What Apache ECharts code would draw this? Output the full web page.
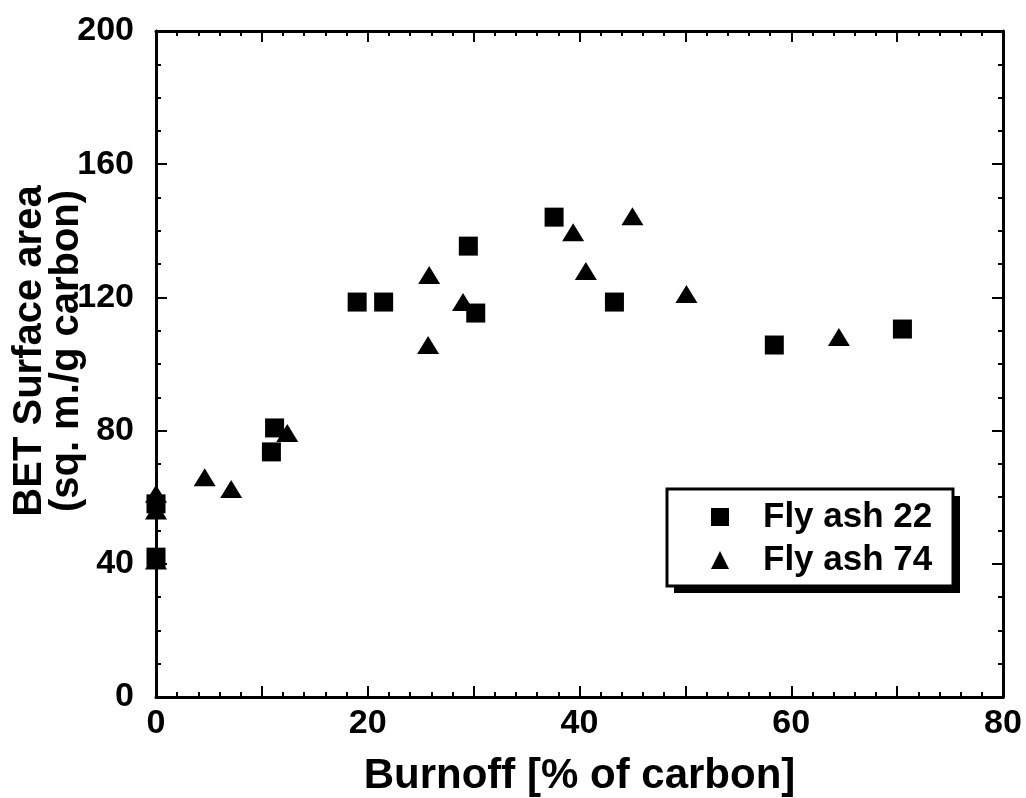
<!DOCTYPE html>
<html>
<head>
<meta charset="utf-8">
<script src="https://cdn.jsdelivr.net/npm/echarts@6/dist/echarts.min.js"></script>
<style>
  html, body { margin: 0; padding: 0; background: #fff; }
  #chart { width: 1026px; height: 798px; }
</style>
</head>
<body>
<div id="chart"></div>
<script>
  // Fly ash 22 (squares): [burnoff %, BET area]
  var flyAsh22 = [
    [0, 42], [0, 58], [10.9, 73.6], [11.2, 80.8], [19.0, 118.6], [21.5, 118.6],
    [29.5, 135.4], [30.2, 115.3], [37.6, 144.1], [43.3, 118.6], [58.4, 105.7], [70.5, 110.5]
  ];
  // Fly ash 74 (triangles)
  var flyAsh74 = [
    [0, 41], [0, 56], [0, 61], [4.6, 66], [7.1, 62.5], [12.4, 79.3], [25.7, 105.7],
    [25.8, 126.7], [29.0, 118.6], [39.4, 139.6], [40.6, 127.9], [45.0, 144.4],
    [50.1, 121.0], [64.5, 108.1]
  ];
  var xRange = [0, 80];
  var yRange = [0, 200];

  var font = 'Liberation Sans, Arial, sans-serif';
  var lineStyle = { color: '#000', width: 3 };

  function frameAxis(pos, range, interval, minorSplit, labels) {
    return {
      type: 'value',
      position: pos,
      min: range[0],
      max: range[1],
      interval: interval,
      axisLine: { show: true, onZero: false, lineStyle: lineStyle },
      axisTick: { show: true, inside: true, length: 11, lineStyle: { color: '#000', width: 2 } },
      minorTick: { show: true, splitNumber: minorSplit, length: 5, lineStyle: { color: '#000', width: 2 } },
      splitLine: { show: false },
      minorSplitLine: { show: false },
      axisLabel: labels ? {
        show: true, color: '#000', fontFamily: font, fontWeight: 'bold', fontSize: 34,
        margin: labels.margin,
        formatter: labels.formatter
      } : { show: false }
    };
  }

  // legend frame with its offset shadow
  var box = { x: 667, y: 489, w: 286, h: 97 };

  var chart = echarts.init(document.getElementById('chart'));
  chart.setOption({
    animation: false,
    backgroundColor: '#fff',
    grid: { left: 156, right: 23, top: 31, bottom: 101, containLabel: false, outerBoundsMode: 'none' },
    xAxis: [
      Object.assign(frameAxis('bottom', xRange, 10, 5, {
        margin: 10,
        formatter: function (v) { return v % 20 === 0 ? String(v) : ''; }
      }), {
        name: 'Burnoff [% of carbon]',
        nameLocation: 'middle',
        nameMoveOverlap: false,
        nameGap: 58,
        nameTextStyle: { color: '#000', fontFamily: font, fontWeight: 'bold', fontSize: 42 }
      }),
      frameAxis('top', xRange, 10, 5, null)
    ],
    yAxis: [
      Object.assign(frameAxis('left', yRange, 40, 4, { margin: 22 }), {
        name: 'BET Surface area\n(sq. m./g carbon)',
        nameLocation: 'middle',
        nameMoveOverlap: false,
        nameRotate: 90,
        nameGap: 71,
        nameTextStyle: { color: '#000', fontFamily: font, fontWeight: 'bold', fontSize: 40, lineHeight: 37,
          padding: [0, 0, 0, 26] }
      }),
      frameAxis('right', yRange, 40, 4, null)
    ],
    graphic: [
      { type: 'rect', z: 1, shape: { x: box.x + 7, y: box.y + 7, width: box.w, height: box.h },
        style: { fill: '#000' } },
      { type: 'rect', z: 2, shape: { x: box.x, y: box.y, width: box.w, height: box.h },
        style: { fill: '#fff', stroke: '#000', lineWidth: 3 } }
    ],
    legend: {
      z: 10,
      orient: 'vertical',
      left: 711,
      top: 499,
      padding: 0,
      itemWidth: 18,
      itemHeight: 18,
      itemGap: 7,
      textStyle: { color: '#000', fontFamily: font, fontWeight: 'bold', fontSize: 35, lineHeight: 36,
        padding: [0, 0, 0, 29] },
      data: ['Fly ash 22', 'Fly ash 74']
    },
    series: [
      {
        name: 'Fly ash 22',
        type: 'scatter',
        clip: false,
        symbol: 'rect',
        symbolSize: 19,
        itemStyle: { color: '#000', opacity: 1 },
        data: flyAsh22
      },
      {
        name: 'Fly ash 74',
        type: 'scatter',
        clip: false,
        symbol: 'triangle',
        symbolSize: [22, 18],
        itemStyle: { color: '#000', opacity: 1 },
        data: flyAsh74
      }
    ]
  });
</script>
</body>
</html>
